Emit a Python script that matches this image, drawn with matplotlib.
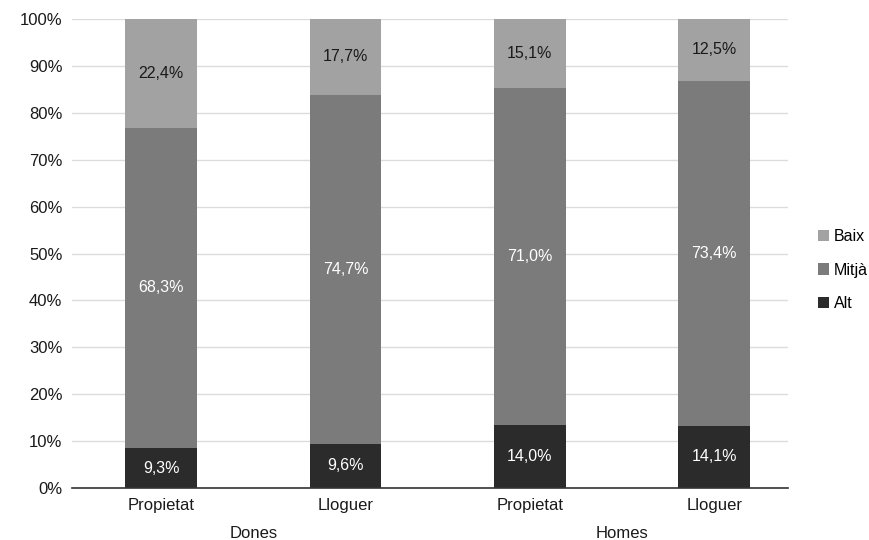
import matplotlib.pyplot as plt
import numpy as np

plt.rcParams['font.family'] = ['Liberation Sans', 'DejaVu Sans']

categories = ['Propietat', 'Lloguer', 'Propietat', 'Lloguer']
groups = ['Dones', 'Homes']
series = ['Alt', 'Mitjà', 'Baix']
# bar heights as drawn (in %)
alt = [8.5, 9.4, 13.4, 13.3]
mitja = [68.3, 74.4, 71.8, 73.5]
baix = [23.2, 16.2, 14.8, 13.2]
# value labels printed on the bars
alt_labels = ['9,3%', '9,6%', '14,0%', '14,1%']
mitja_labels = ['68,3%', '74,7%', '71,0%', '73,4%']
baix_labels = ['22,4%', '17,7%', '15,1%', '12,5%']

colors = ['#2b2b2b', '#7b7b7b', '#a2a2a2']
text_colors = ['white', 'white', '#1a1a1a']

fig = plt.figure(figsize=(8.7, 5.4), dpi=100)
ax = fig.add_axes([0.0828, 0.0963, 0.8229, 0.8685])

data = [alt, mitja, baix]
labels = [alt_labels, mitja_labels, baix_labels]
x = np.arange(len(categories))
width = 0.39

bottom = np.zeros(len(categories))
handles = []
for k in range(3):
    vals = np.array(data[k])
    b = ax.bar(x, vals, width, bottom=bottom, color=colors[k], zorder=2, label=series[k])
    handles.append(b)
    for i in range(len(x)):
        ax.text(x[i], bottom[i] + vals[i] / 2, labels[k][i],
                ha='center', va='center', fontsize=11.5, color=text_colors[k], zorder=3)
    bottom += vals

ax.set_xlim(-0.483, 3.40)
ax.set_ylim(0, 100)
ax.set_yticks(np.arange(0, 101, 10))
ax.set_yticklabels([f'{v}%' for v in range(0, 101, 10)])
ax.yaxis.grid(True, color='#dcdcdc', linewidth=1, zorder=0)
ax.set_xticks(x)
ax.set_xticklabels(categories)
ax.tick_params(axis='both', length=0, labelsize=12, colors='#1a1a1a')
ax.tick_params(axis='y', pad=7)
ax.tick_params(axis='x', pad=7)
for s in ['top', 'right', 'left']:
    ax.spines[s].set_visible(False)
ax.spines['bottom'].set_color('#333333')
ax.spines['bottom'].set_linewidth(1.2)
ax.spines['bottom'].set_zorder(4)

for g, name in enumerate(groups):
    ax.text(2 * g + 0.5, -9.8, name, ha='center', va='center', fontsize=12,
            color='#1a1a1a', transform=ax.transData)

leg = fig.legend(handles[::-1], series[::-1], loc='center left', bbox_to_anchor=(0.936, 0.5),
                 frameon=False, fontsize=11.5, handlelength=0.7, handleheight=0.7,
                 handletextpad=0.3, labelspacing=1.15, borderpad=0.1, borderaxespad=0.1)

fig.savefig('out.png', dpi=100)
